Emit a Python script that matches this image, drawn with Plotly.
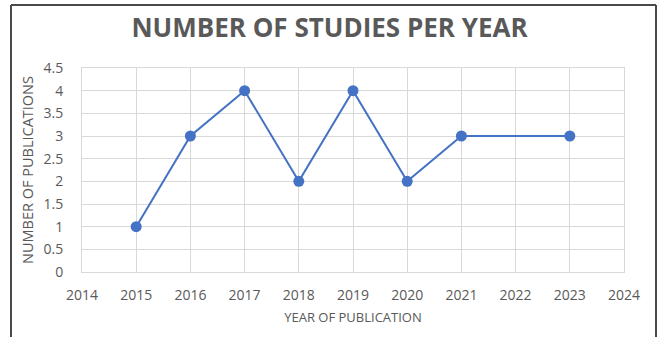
import plotly.graph_objects as go

# Publications per year (2022 has no entry)
years = [2015, 2016, 2017, 2018, 2019, 2020, 2021, 2023]
publications = [1, 3, 4, 2, 4, 2, 3, 3]

x_ticks = list(range(2014, 2025))
y_ticks = [0, 0.5, 1, 1.5, 2, 2.5, 3, 3.5, 4, 4.5]
y_tick_labels = ["0", "0.5", "1", "1.5", "2", "2.5", "3", "3.5", "4", "4.5"]

W, H = 659, 337
L, R, T, B = 82, 35, 68, 65
pw, ph = W - L - R, H - T - B

def px_x(x):
    return (x - L) / pw

def px_y(y):
    return (H - B - y) / ph

grid = "#d9d9d9"
text_col = "#595959"

fig = go.Figure(go.Scatter(
    x=years, y=publications, mode="lines+markers",
    line=dict(color="#4472C4", width=2),
    marker=dict(color="#4472C4", size=11),
))

border = dict(type="line", xref="paper", yref="paper",
              line=dict(color="#4a4a4a", width=2))
fig.update_layout(
    width=W, height=H,
    margin=dict(l=L, r=R, t=T, b=B),
    paper_bgcolor="white", plot_bgcolor="white",
    showlegend=False,
    title=dict(text="<b>NUMBER OF STUDIES PER YEAR</b>",
               font=dict(family="Open Sans", size=26, color="#595959"),
               x=0.5, xanchor="center", y=1 - 28 / H, yanchor="middle"),
    font=dict(family="Open Sans", color=text_col),
    xaxis=dict(range=[2014, 2024], tickvals=x_ticks,
               showgrid=True, gridcolor=grid, gridwidth=1,
               showline=True, linecolor=grid, linewidth=1, mirror=True,
               zeroline=False, ticks="", ticklabelstandoff=10,
               tickfont=dict(size=14, color=text_col),
               title=dict(text="YEAR OF PUBLICATION", standoff=10,
                          font=dict(size=13, color=text_col))),
    yaxis=dict(range=[0, 4.5], tickvals=y_ticks, ticktext=y_tick_labels,
               showgrid=True, gridcolor=grid, gridwidth=1,
               showline=True, linecolor=grid, linewidth=1, mirror=True,
               zeroline=False, ticks="", ticklabelstandoff=15,
               tickfont=dict(size=14, color=text_col),
               title=dict(text="NUMBER OF PUBLICATIONS", standoff=6,
                          font=dict(size=14.5, color=text_col))),
    shapes=[
        dict(border, x0=px_x(11), x1=px_x(11), y0=px_y(5), y1=px_y(H + 5)),
        dict(border, x0=px_x(11), x1=px_x(656), y0=px_y(5), y1=px_y(5)),
        dict(border, x0=px_x(656), x1=px_x(656), y0=px_y(5), y1=px_y(H + 5)),
    ],
)

fig.write_html("out.html")
